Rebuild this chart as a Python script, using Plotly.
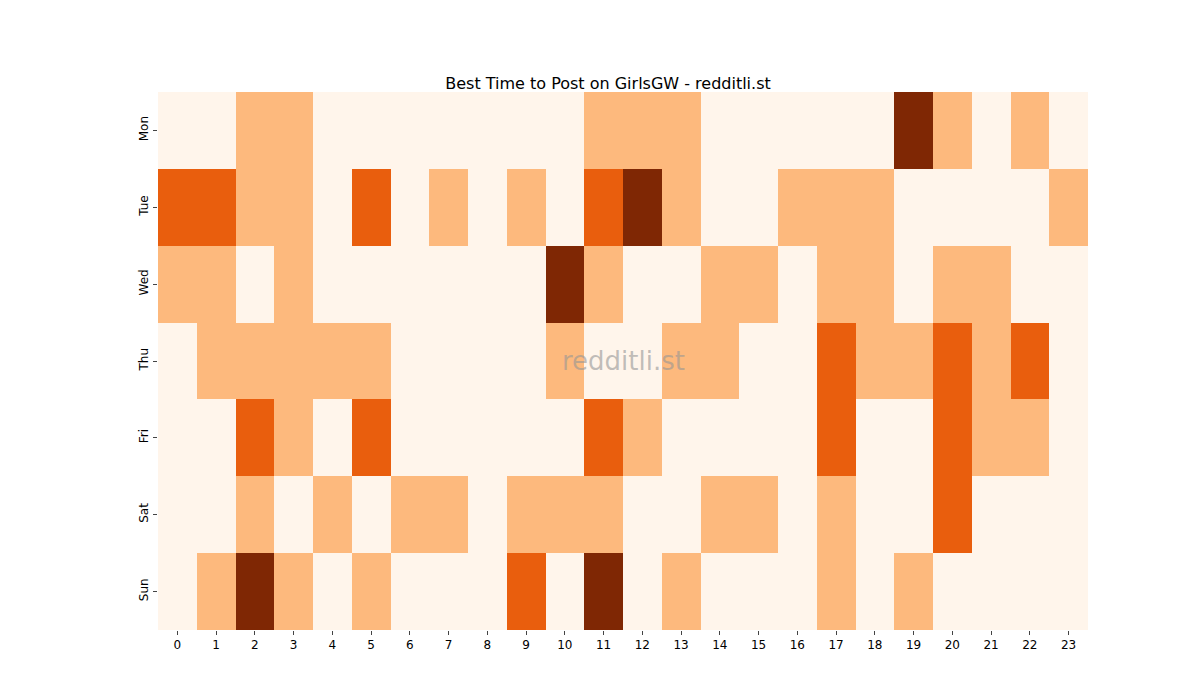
import plotly.graph_objects as go

days = ["Mon", "Tue", "Wed", "Thu", "Fri", "Sat", "Sun"]
hours = list(range(24))

# activity level per day/hour (0 = low .. 3 = best)
mon = [0, 0, 1, 1, 0, 0, 0, 0, 0, 0, 0, 1, 1, 1, 0, 0, 0, 0, 0, 3, 1, 0, 1, 0]
tue = [2, 2, 1, 1, 0, 2, 0, 1, 0, 1, 0, 2, 3, 1, 0, 0, 1, 1, 1, 0, 0, 0, 0, 1]
wed = [1, 1, 0, 1, 0, 0, 0, 0, 0, 0, 3, 1, 0, 0, 1, 1, 0, 1, 1, 0, 1, 1, 0, 0]
thu = [0, 1, 1, 1, 1, 1, 0, 0, 0, 0, 1, 0, 0, 1, 1, 0, 0, 2, 1, 1, 2, 1, 2, 0]
fri = [0, 0, 2, 1, 0, 2, 0, 0, 0, 0, 0, 2, 1, 0, 0, 0, 0, 2, 0, 0, 2, 1, 1, 0]
sat = [0, 0, 1, 0, 1, 0, 1, 1, 0, 1, 1, 1, 0, 0, 1, 1, 0, 1, 0, 0, 2, 0, 0, 0]
sun = [0, 1, 3, 1, 0, 1, 0, 0, 0, 2, 0, 3, 0, 1, 0, 0, 0, 1, 0, 1, 0, 0, 0, 0]
levels = [mon, tue, wed, thu, fri, sat, sun]

colors = ["#fff5eb", "#fdb97d", "#e95e0d", "#7f2704"]
scale = []
for i, c in enumerate(colors):
    scale.append([i / 4, c])
    scale.append([(i + 1) / 4, c])

fig = go.Figure(go.Heatmap(
    z=levels, x=hours, y=days, zmin=-0.5, zmax=3.5,
    colorscale=scale, showscale=False,
))

fig.add_annotation(text="redditli.st", x=0.5, y=0.5, xref="paper", yref="paper",
                   showarrow=False, font=dict(size=26, color="rgba(150,150,150,0.6)"))

fig.update_layout(
    title=dict(text="Best Time to Post on GirlsGW - redditli.st", x=0.5, y=0.9,
               xanchor="center", font=dict(size=16, color="black")),
    width=1200, height=700,
    margin=dict(l=150, r=120, t=84, b=78),
    plot_bgcolor="white", paper_bgcolor="white",
    font=dict(family="DejaVu Sans", size=12, color="black"),
    xaxis=dict(tickmode="array", tickvals=hours, ticks="outside", ticklen=4,
               showgrid=False, zeroline=False),
    yaxis=dict(autorange="reversed", ticks="outside", ticklen=4, tickangle=-90,
               showgrid=False, zeroline=False),
)

fig.write_html("out.html")
